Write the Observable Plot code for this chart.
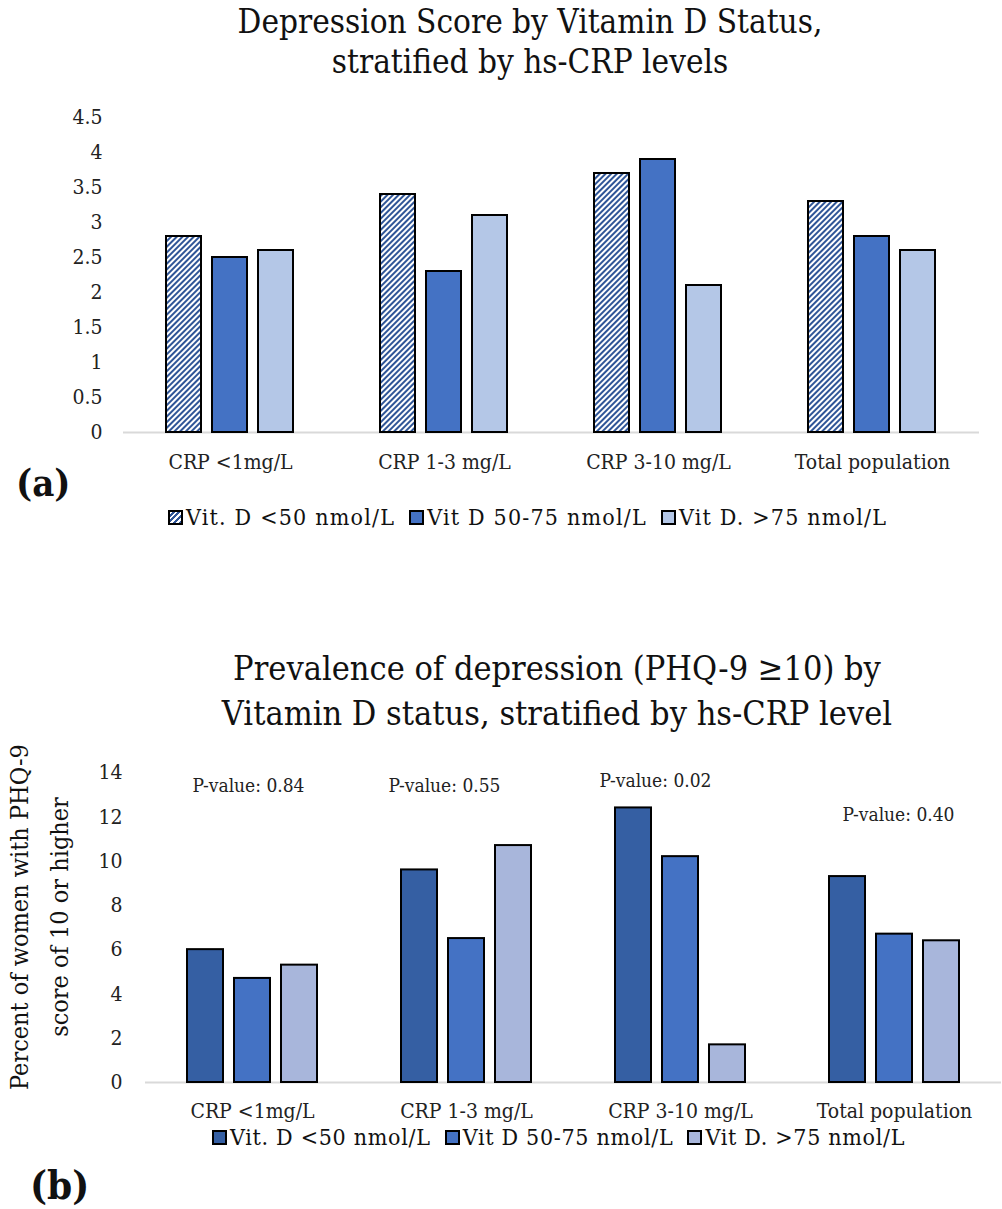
<!DOCTYPE html>
<html>
<head>
<meta charset="utf-8">
<script src="https://cdn.jsdelivr.net/npm/d3@7"></script>
<script src="https://cdn.jsdelivr.net/npm/@observablehq/plot@0.6"></script>
<style>
  html, body { margin: 0; padding: 0; background: #fff; }
  body { width: 1002px; height: 1209px; position: relative; overflow: hidden;
         font-family: "DejaVu Serif Condensed", "DejaVu Serif", serif; font-stretch: condensed; color: #111; }
  .abs { position: absolute; }
  .title { text-align: center; white-space: nowrap; }
  .legend { display: flex; align-items: center; white-space: nowrap; letter-spacing: 1.2px; }
  .legend .item { display: flex; align-items: center; margin-right: 14px; }
  .legend .sw { width: 11px; height: 11px; border: 2px solid #000; margin-right: 3px; box-sizing: content-box; }
  .tag { font-weight: bold; }
  svg { overflow: visible; }
</style>
</head>
<body>
<div id="titleA" class="abs title" style="left:29px; width:1002px; top:2px; font-size:33px; line-height:40px;"></div>
<div id="chartA" class="abs" style="left:0; top:100px;"></div>
<div id="legendA" class="abs legend" style="left:168px; top:505px; font-size:23px; line-height:24px;"></div>
<div class="abs tag" style="left:16px; top:461px; font-size:38px; line-height:44px;">(a)</div>

<div id="titleB" class="abs title" style="left:56px; width:1002px; top:646px; font-size:34px; line-height:45px;"></div>
<div id="ylabB" class="abs title" style="left:40px; top:917px; width:0; height:0;"></div>
<div id="chartB" class="abs" style="left:0; top:750px;"></div>
<div id="legendB" class="abs legend" style="left:212px; top:1125px; font-size:23px; line-height:24px; letter-spacing:0.7px;"></div>
<div class="abs tag" style="left:30px; top:1162px; font-size:40px; line-height:46px;">(b)</div>

<script>
// ---------------- data ----------------
const categories = ["CRP <1mg/L", "CRP 1-3 mg/L", "CRP 3-10 mg/L", "Total population"];
const series = ["Vit. D <50 nmol/L", "Vit D 50-75 nmol/L", "Vit D. >75 nmol/L"];

// (a) depression score
const scoreLow  = [2.8, 3.4, 3.7, 3.3];
const scoreMid  = [2.5, 2.3, 3.9, 2.8];
const scoreHigh = [2.6, 3.1, 2.1, 2.6];
const yTicksA = [0, 0.5, 1, 1.5, 2, 2.5, 3, 3.5, 4, 4.5];

// (b) prevalence of depression (%)
const prevLow  = [6.0, 9.6, 12.4, 9.3];
const prevMid  = [4.7, 6.5, 10.2, 6.7];
const prevHigh = [5.3, 10.7, 1.7, 6.4];
const yTicksB = [0, 2, 4, 6, 8, 10, 12, 14];
const pValues = ["0.84", "0.55", "0.02", "0.40"];
const pLabelY = [13.4, 13.4, 13.6, 12.1];

const titleA = ["Depression Score by Vitamin D Status,", "stratified by hs-CRP levels"];
const titleB = ["Prevalence of depression (PHQ-9 \u226510) by", "Vitamin D status, stratified by hs-CRP level"];
const yLabelB = ["Percent of women with PHQ-9", "score of 10 or higher"];

// ---------------- helpers ----------------
const FONT = '"DejaVu Serif Condensed", "DejaVu Serif", serif';
function toRows(a, b, c) {
  const rows = [];
  categories.forEach((cat, i) => {
    rows.push({cat, s: series[0], v: a[i]});
    rows.push({cat, s: series[1], v: b[i]});
    rows.push({cat, s: series[2], v: c[i]});
  });
  return rows;
}
document.getElementById("titleA").innerHTML = titleA.join("<br>");
document.getElementById("titleB").innerHTML = titleB.join("<br>");
const yl = document.getElementById("ylabB");
yl.innerHTML = `<div style="position:absolute; left:0; top:0; transform: translate(-50%,-50%) rotate(-90deg); font-size:25px; line-height:40px; white-space:nowrap; text-align:center;">${yLabelB.join("<br>")}</div>`;

const hatchDefs = `<defs><pattern id="hatch" patternUnits="userSpaceOnUse" width="4" height="4" patternTransform="rotate(45)">
  <rect width="4" height="4" fill="#ffffff"></rect><rect width="2" height="4" fill="#2F5597"></rect></pattern></defs>`;

// ---------------- chart (a) ----------------
const colorsA = ["url(#hatch)", "#4472C4", "#B4C7E7"];
const chartA = Plot.plot({
  width: 1002, height: 380,
  marginLeft: 122, marginRight: 22, marginTop: 17, marginBottom: 48,
  style: {fontFamily: FONT, fontSize: "21px", color: "#222", background: "transparent", fontStretch: "condensed"},
  fx: {domain: categories, padding: 0, axis: "bottom", tickSize: 0, tickPadding: 22, label: null},
  x: {domain: series, paddingInner: 0.234, paddingOuter: 0.897, axis: null},
  y: {domain: [0, 4.5], ticks: yTicksA, tickFormat: d => String(d), tickSize: 0, tickPadding: 21, label: null},
  color: {domain: series, range: colorsA},
  marks: [
    Plot.ruleY([0], {stroke: "#d9d9d9", strokeWidth: 2}),
    Plot.barY(toRows(scoreLow, scoreMid, scoreHigh), {fx: "cat", x: "s", y: "v", fill: "s", stroke: "#000", strokeWidth: 2})
  ]
});
chartA.insertAdjacentHTML("afterbegin", hatchDefs);
document.getElementById("chartA").appendChild(chartA);

// ---------------- chart (b) ----------------
const colorsB = ["#355FA3", "#4472C4", "#A8B6DB"];
const pDx = [-4, -22, -25, 4];
const chartB = Plot.plot({
  width: 1002, height: 380,
  marginLeft: 143, marginRight: 0, marginTop: 22, marginBottom: 48,
  style: {fontFamily: FONT, fontSize: "21px", color: "#222", background: "transparent", fontStretch: "condensed"},
  fx: {domain: categories, padding: 0, axis: "bottom", tickSize: 0, tickPadding: 21, label: null},
  x: {domain: series, paddingInner: 0.23, paddingOuter: 0.852, axis: null},
  y: {domain: [0, 14], ticks: yTicksB, tickFormat: d => String(d), tickSize: 0, tickPadding: 23, label: null},
  color: {domain: series, range: colorsB},
  marks: [
    Plot.ruleY([0], {stroke: "#d9d9d9", strokeWidth: 2}),
    Plot.barY(toRows(prevLow, prevMid, prevHigh), {fx: "cat", x: "s", y: "v", fill: "s", stroke: "#000", strokeWidth: 2}),
    ...categories.map((cat, i) => Plot.text([{cat, y: pLabelY[i], t: "P-value: " + pValues[i]}],
      {fx: "cat", y: "y", text: "t", dx: pDx[i], fontSize: 19, fill: "#222"}))
  ]
});
document.getElementById("chartB").appendChild(chartB);

// ---------------- legends ----------------
function legend(el, fills) {
  const node = document.getElementById(el);
  series.forEach((s, i) => {
    const it = document.createElement("div");
    it.className = "item";
    const sw = document.createElement("div");
    sw.className = "sw";
    sw.style.background = fills[i];
    const tx = document.createElement("span");
    tx.textContent = s;
    it.appendChild(sw); it.appendChild(tx);
    node.appendChild(it);
  });
}
legend("legendA", ["repeating-linear-gradient(-45deg, #2F5597 0 2px, #fff 2px 4px)", "#4472C4", "#B4C7E7"]);
legend("legendB", colorsB);
</script>
</body>
</html>
